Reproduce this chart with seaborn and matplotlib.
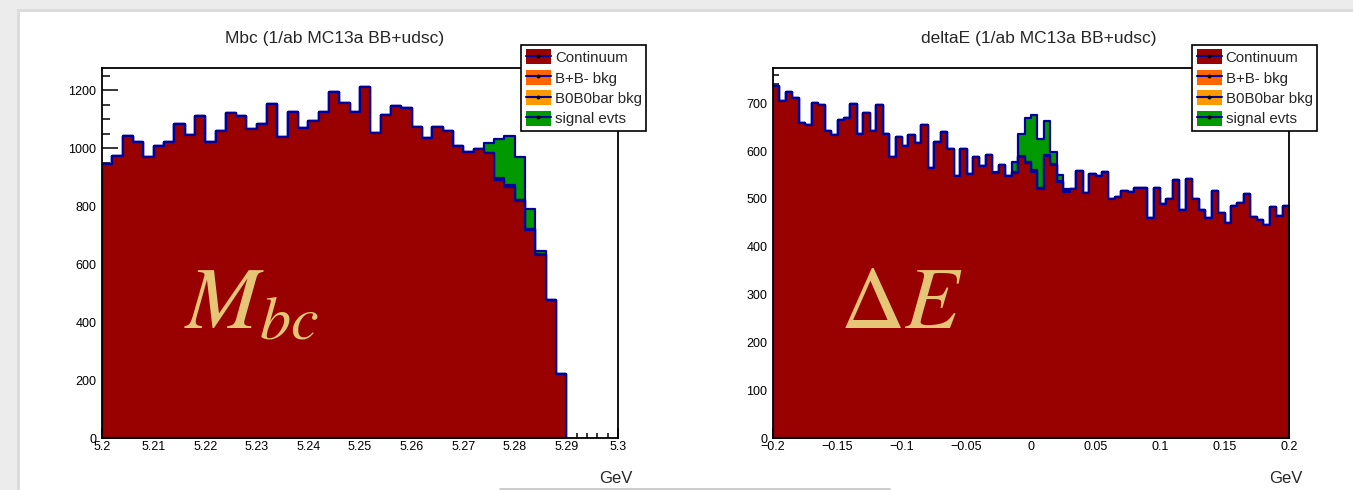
import numpy as np
import pandas as pd
import matplotlib
matplotlib.use('Agg')
import matplotlib.pyplot as plt
import seaborn as sns
from matplotlib.patches import Patch, Rectangle
from matplotlib.lines import Line2D
from matplotlib.ticker import MultipleLocator, FuncFormatter

### Mbc: 45 bins de 2 MeV entre 5.20 y 5.29 GeV
mbc_lo, mbc_hi, mbc_nbins = 5.20, 5.29, 45
mbc_continuum = [945, 974, 1041, 1022, 970, 1007, 1023, 1082, 1047, 1113,
                 1023, 1059, 1121, 1112, 1067, 1082, 1153, 1039, 1125, 1071,
                 1094, 1124, 1194, 1156, 1125, 1212, 1054, 1114, 1146, 1138,
                 1073, 1034, 1075, 1060, 1008, 988, 998, 984, 890, 866,
                 818, 718, 630, 477, 221]
mbc_bpbm = [0] * 38 + [3, 4, 3, 3, 3, 0, 0]
mbc_b0b0bar = [0] * 38 + [3, 3, 2, 2, 2, 0, 0]
mbc_signal = [0] * 37 + [35, 135, 168, 147, 67, 10, 0, 0]

### deltaE: 80 bins de 5 MeV entre -0.2 y 0.2 GeV
de_lo, de_hi, de_nbins = -0.2, 0.2, 80
de_continuum = [737, 705, 723, 712, 658, 655, 700, 697, 642, 634,
                665, 669, 698, 636, 679, 643, 697, 635, 587, 629,
                611, 633, 618, 655, 565, 620, 640, 604, 549, 605,
                553, 588, 570, 591, 555, 572, 549, 555, 587, 575,
                557, 520, 590, 571, 535, 515, 520, 558, 512, 552,
                549, 556, 500, 505, 517, 514, 522, 524, 460, 524,
                489, 499, 540, 477, 542, 501, 477, 460, 517, 470,
                450, 486, 491, 510, 463, 455, 446, 483, 465, 485]
de_bpbm = [0] * 37 + [1, 1, 2, 2, 2, 2, 1, 1, 1] + [0] * 34
de_b0b0bar = [0] * 37 + [1, 1, 1, 2, 2, 1, 1, 1, 0] + [0] * 34
de_signal = [0] * 34 + [2, 0, 0, 20, 47, 92, 115, 101, 70, 25, 13, 4] + [0] * 34

labels = ['Continuum', 'B+B- bkg', 'B0B0bar bkg', 'signal evts']
colores = ['#990000', '#ff6600', '#ff9900', '#009900']
linea = '#00009a'
texto_oro = '#e6c676'

sns.set_style('ticks')
plt.rcParams['font.family'] = ['Liberation Sans', 'DejaVu Sans']
plt.rcParams['mathtext.fontset'] = 'stix'

W, H = 1353, 490
fig = plt.figure(figsize=(W / 100, H / 100), dpi=100)
fig.patch.set_facecolor('#ececec')
fig.add_artist(Rectangle((17 / W, 0), 1, 1 - 9 / H, transform=fig.transFigure,
                         facecolor='#dcdcdc', edgecolor='none', zorder=-11))
fig.add_artist(Rectangle((20 / W, 0), 1, 1 - 12 / H, transform=fig.transFigure,
                         facecolor='white', edgecolor='none', zorder=-10))
fig.add_artist(Line2D([500 / W, 890 / W], [1.5 / H, 1.5 / H], transform=fig.transFigure,
                      color='#c4c4c4', lw=1.2))


def fmt_tick(v, pos):
    v = round(v, 4) + 0.0
    return f'{v:g}'.replace('-', '\u2212')


def draw_stack(ax, lo, hi, nbins, comps):
    width = (hi - lo) / nbins
    centers = lo + width * (np.arange(nbins) + 0.5)
    df = pd.DataFrame({'x': centers})
    cum = np.zeros(nbins)
    for lab, vals in zip(labels, comps):
        cum = cum + np.array(vals, dtype=float)
        df[lab] = cum
    # se dibuja de arriba hacia abajo para imitar THStack
    for lab, col in reversed(list(zip(labels, colores))):
        sns.histplot(data=df, x='x', weights=lab, bins=nbins, binrange=(lo, hi),
                     element='step', fill=True, color=col, alpha=1,
                     edgecolor=linea, linewidth=1.6, ax=ax)


panels = [
    dict(left=102, lo=mbc_lo, hi=mbc_hi, nbins=mbc_nbins,
         comps=[mbc_continuum, mbc_bpbm, mbc_b0b0bar, mbc_signal],
         xlim=(5.2, 5.3), ylim=(0, 1277), xmaj=0.01, xmin=0.002, ymaj=200, ymin=50,
         title='Mbc (1/ab MC13a BB+udsc)', tx=335, big=r'$M_{bc}$', bx=184,
         ylen=(11.5, 5.8), xlen=(7.2, 3.6)),
    dict(left=773, lo=de_lo, hi=de_hi, nbins=de_nbins,
         comps=[de_continuum, de_bpbm, de_b0b0bar, de_signal],
         xlim=(-0.2, 0.2), ylim=(0, 774), xmaj=0.05, xmin=0.01, ymaj=100, ymin=20,
         title='deltaE (1/ab MC13a BB+udsc)', tx=1039, big=r'$\Delta E$', bx=840,
         ylen=(8.0, 4.5), xlen=(7.2, 3.6)),
]

for p in panels:
    ax = fig.add_axes([p['left'] / W, (H - 438) / H, 516 / W, 370 / H])
    ax.set_facecolor('white')
    draw_stack(ax, p['lo'], p['hi'], p['nbins'], p['comps'])
    ax.set_xlim(*p['xlim'])
    ax.set_ylim(*p['ylim'])
    ax.set_xlabel('')
    ax.set_ylabel('')
    ax.xaxis.set_major_locator(MultipleLocator(p['xmaj']))
    ax.xaxis.set_minor_locator(MultipleLocator(p['xmin']))
    ax.yaxis.set_major_locator(MultipleLocator(p['ymaj']))
    ax.yaxis.set_minor_locator(MultipleLocator(p['ymin']))
    ax.xaxis.set_major_formatter(FuncFormatter(fmt_tick))
    ax.tick_params(axis='both', which='both', direction='in', width=1.1,
                   colors='black', labelsize=9, top=False, right=False)
    ax.tick_params(axis='y', which='major', length=p['ylen'][0], pad=4)
    ax.tick_params(axis='y', which='minor', length=p['ylen'][1])
    ax.tick_params(axis='x', which='major', length=p['xlen'][0], pad=2)
    ax.tick_params(axis='x', which='minor', length=p['xlen'][1])
    for s in ax.spines.values():
        s.set_visible(True)
        s.set_linewidth(1.3)
        s.set_color('black')
        s.set_zorder(5)

    fig.text(p['bx'] / W, 1 - 328 / H, p['big'], fontsize=64,
             color=texto_oro, ha='left', va='baseline')

    fig.text(p['tx'] / W, 1 - 38 / H, p['title'], fontsize=12.5,
             ha='center', va='center')
    fig.text((p['left'] + 530) / W, 1 - 478 / H, 'GeV', fontsize=12,
             ha='right', va='center')

    handles = [(Patch(facecolor=c, edgecolor='none'),
                Line2D([], [], color=linea, lw=1.5, marker='o', markersize=1.8,
                       markerfacecolor='black', markeredgecolor='black'))
               for c in colores]
    leg = fig.legend(handles, labels, loc='upper left',
                     bbox_to_anchor=((p['left'] + 419) / W, 1 - 45 / H),
                     bbox_transform=fig.transFigure, borderaxespad=0,
                     fontsize=10.8, frameon=True, fancybox=False, framealpha=1,
                     edgecolor='black', borderpad=0.3, labelspacing=0.33,
                     handlelength=1.7, handleheight=1.15, handletextpad=0.25)
    leg.get_frame().set_linewidth(1.2)
    leg.set_zorder(10)

fig.savefig('out.png', dpi=100)
